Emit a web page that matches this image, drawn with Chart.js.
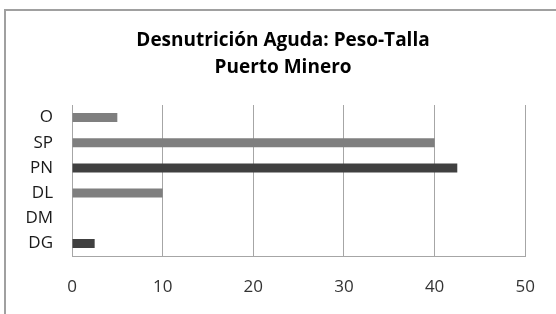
<!DOCTYPE html>
<html>
<head>
<meta charset="utf-8">
<script src="https://cdn.jsdelivr.net/npm/chart.js@4"></script>
<style>
html,body{margin:0;padding:0;background:#fff;}
</style>
</head>
<body>
<canvas id="c" width="556" height="314"></canvas>
<script>
const categories = ['O', 'SP', 'PN', 'DL', 'DM', 'DG'];
const values = [5, 40, 42.5, 10, 0, 2.5];
const xTicks = [0, 10, 20, 30, 40, 50];
const titleLines = ['Desnutrición Aguda: Peso-Talla', 'Puerto Minero'];

const LIGHT = '#7f7f7f', DARK = '#404040';
const barColors = [LIGHT, LIGHT, DARK, LIGHT, LIGHT, DARK];
const FONT = 'Open Sans';

const frame = {
  id: 'frame',
  beforeDraw(chart) {
    const ctx = chart.ctx;
    ctx.save();
    ctx.fillStyle = '#fff';
    ctx.fillRect(0, 0, chart.width, chart.height);
    ctx.strokeStyle = '#a0a0a0';
    ctx.lineWidth = 2;
    ctx.beginPath();
    ctx.moveTo(5, chart.height);
    ctx.lineTo(5, 10);
    ctx.lineTo(chart.width, 10);
    ctx.stroke();
    ctx.restore();
  },
  afterDraw(chart) {
    const ctx = chart.ctx;
    ctx.save();
    ctx.fillStyle = '#000';
    ctx.font = 'bold 19px "' + FONT + '"';
    ctx.textAlign = 'center';
    ctx.textBaseline = 'middle';
    ctx.fillText(titleLines[0], 283, 41);
    ctx.fillText(titleLines[1], 283, 68);
    ctx.restore();
  }
};

new Chart(document.getElementById('c'), {
  type: 'bar',
  data: {
    labels: categories,
    datasets: [{
      data: values,
      backgroundColor: barColors,
      categoryPercentage: 1,
      barPercentage: 0.36
    }]
  },
  plugins: [frame],
  options: {
    indexAxis: 'y',
    responsive: false,
    animation: false,
    devicePixelRatio: 1,
    layout: { padding: { left: 10, right: 28, top: 105, bottom: 0 } },
    plugins: {
      legend: { display: false },
      tooltip: { enabled: false },
      title: { display: false }
    },
    scales: {
      x: {
        min: 0, max: 50,
        afterBuildTicks(scale) { scale.ticks = xTicks.map(v => ({ value: v })); },
        afterFit(scale) { scale.height = 58; },
        grid: { color: '#a6a6a6', lineWidth: 1, drawTicks: false },
        border: { display: true, color: '#a6a6a6', width: 1 },
        ticks: { color: '#333333', padding: 21, font: { family: FONT, size: 17 } }
      },
      y: {
        afterFit(scale) { scale.width = 62; },
        grid: { display: false, drawTicks: false },
        border: { display: true, color: '#a6a6a6', width: 1 },
        ticks: { color: '#1a1a1a', padding: 19, font: { family: FONT, size: 17 } }
      }
    }
  }
});
</script>
</body>
</html>
